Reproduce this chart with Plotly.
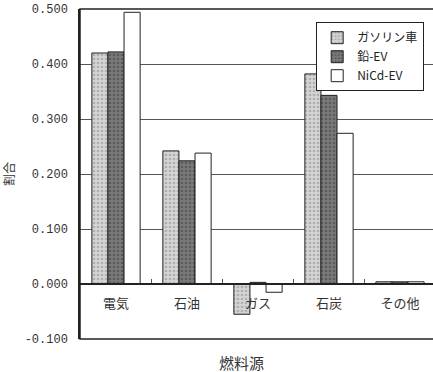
import plotly.graph_objects as go

categories = ["電気", "石油", "ガス", "石炭", "その他"]
series_names = ["ガソリン車", "鉛-EV", "NiCd-EV"]
gasoline = [0.420, 0.242, -0.055, 0.382, 0.004]
lead_ev = [0.422, 0.224, 0.003, 0.343, 0.004]
nicd_ev = [0.494, 0.238, -0.015, 0.274, 0.004]
y_ticks = [-0.1, 0.0, 0.1, 0.2, 0.3, 0.4, 0.5]
y_tick_text = ["-0.100", "0.000", "0.100", "0.200", "0.300", "0.400", "0.500"]

styles = [
    dict(bg="#d4d4d4", fg="#8a8a8a"),
    dict(bg="#7a7a7a", fg="#3c3c3c"),
    dict(bg="#ffffff", fg=None),
]

fig = go.Figure()
for name, vals, st in zip(series_names, [gasoline, lead_ev, nicd_ev], styles):
    marker = dict(color=st["bg"], line=dict(color="#222", width=1))
    if st["fg"]:
        marker["pattern"] = dict(shape=".", fgcolor=st["fg"], bgcolor=st["bg"],
                                 size=4, solidity=0.35, fillmode="overlay")
    fig.add_trace(go.Bar(x=categories, y=vals, name=name, marker=marker))

cjk = "Noto Sans CJK JP"
fig.update_layout(
    width=433, height=372,
    margin=dict(l=80, r=0, t=9, b=33),
    paper_bgcolor="white", plot_bgcolor="white",
    barmode="group", bargap=0.32, bargroupgap=0,
    font=dict(family=cjk, size=13, color="#222"),
    legend=dict(x=0.975, xanchor="right", y=0.96, yanchor="top",
                bordercolor="#222", borderwidth=1, bgcolor="white",
                font=dict(family=cjk, size=12), tracegroupgap=0,
                itemwidth=30),
    showlegend=True,
)
fig.update_xaxes(
    type="category", range=[-0.507, 4.465],
    anchor="free", position=1/6,
    showline=True, linecolor="#222", linewidth=1.5,
    ticks="inside", tickson="boundaries", ticklen=4, tickcolor="#555",
    showgrid=False, ticklabelstandoff=8,
    tickfont=dict(family=cjk, size=13, color="#333"),
)
fig.update_yaxes(
    range=[-0.1, 0.5], tickvals=y_ticks, ticktext=y_tick_text,
    showgrid=True, gridcolor="#555", gridwidth=1,
    zeroline=True, zerolinecolor="#222", zerolinewidth=1.5,
    showline=True, linecolor="#222", linewidth=1.5,
    ticks="", ticklabelstandoff=8,
    tickfont=dict(family="Liberation Mono", size=12, color="#333"),
    title=dict(text="割合", standoff=14, font=dict(family=cjk, size=12, color="#333")),
)
fig.add_shape(type="rect", xref="paper", yref="paper", x0=0, x1=1.05, y0=0, y1=1,
              line=dict(color="#222", width=1.5), layer="above")
fig.add_annotation(text="燃料源", xref="paper", yref="paper", x=(241-80)/353, y=-0.07,
                   showarrow=False, font=dict(family=cjk, size=15, color="#333"),
                   xanchor="center", yanchor="middle")

fig.write_html("out.html")
